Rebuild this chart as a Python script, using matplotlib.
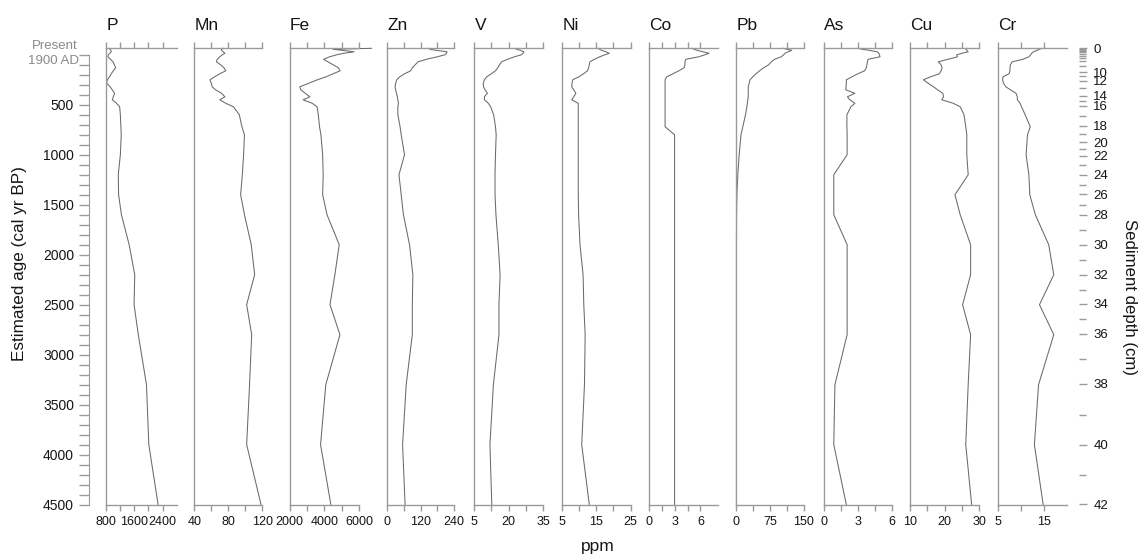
import matplotlib.pyplot as plt

plt.rcParams['font.family'] = ['Liberation Sans', 'DejaVu Sans']

W, H = 1143, 556

# sample ages (cal yr BP), shared by all element profiles
ages = [-65, -55, -45, -30, -15, 0, 20, 45, 70, 100, 130, 160, 190, 220, 250, 285,
        320, 350, 385, 420, 450, 485, 520, 600, 720, 800, 1000, 1200, 1400, 1600,
        1900, 2200, 2500, 2800, 3300, 3900, 4500]

P = [875, 900, 930, 940, 900, 860, 846, 920, 990, 1030, 1066, 1000, 940, 890, 830, 810,
     910, 970, 1037, 1000, 970, 1090, 1180, 1200, 1215, 1225, 1200, 1140, 1150, 1230,
     1450, 1609, 1590, 1710, 1943, 2009, 2274]
Mn = [74, 72, 72, 74, 76, 73, 70, 67, 66, 71, 75, 77, 70, 64, 58.5, 60,
      61, 65, 72, 76, 70, 77, 86, 93, 96, 99, 98, 96.5, 94.5, 99,
      107, 111, 101.6, 107.5, 105, 101.6, 118.5]
Fe = [6700, 4500, 5000, 5700, 5100, 4700, 4300, 3950, 4200, 4500, 4800, 4900, 4500, 4100, 3600, 3100,
      2590, 2650, 2900, 3170, 2780, 3300, 3580, 3650, 3720, 3800, 3900, 3930, 3900, 4150,
      4850, 4600, 4320, 4890, 4080, 3780, 4370]
Zn = [147, 155, 175, 215, 213, 207, 180, 140, 111, 100, 90, 84, 62, 45, 34, 30,
      28, 30, 33, 36, 38, 40, 38, 38, 46, 50, 62, 42, 50, 58,
      80, 92, 90, 90, 68, 55, 64]
V = [22.7, 23.5, 25, 26.6, 26.2, 25.5, 22.5, 19.5, 17, 16, 15.3, 14.3, 12.5, 10.5, 9.5, 9,
     9.1, 9.8, 10.8, 9.5, 9.5, 11.2, 12.2, 13.5, 14.3, 14.6, 14.3, 14.1, 14.1, 14.5,
     15.5, 16.3, 15.8, 15.8, 13.4, 11.9, 12.7]
Ni = [15.6, 16, 16.5, 17.8, 18.8, 17.5, 16, 14.5, 13.2, 13, 12.8, 12.5, 11.3, 10, 8.2, 8,
      7.9, 8.5, 9.1, 8.5, 7.9, 9.8, 9.8, 9.8, 9.8, 9.8, 9.8, 9.8, 9.8, 9.9,
      10.3, 11.2, 11.4, 11.8, 11.6, 10.8, 13]
Co = [5.0, 5.3, 5.6, 6.3, 7.0, 6.5, 5.8, 4.3, 4.2, 4.2, 4.1, 3.5, 2.8, 2.1, 1.9, 1.9,
      1.9, 1.9, 1.9, 1.9, 1.9, 1.9, 1.9, 1.9, 1.9, 3.0, 3.0, 3.0, 3.0, 3.0,
      3.0, 3.0, 3.0, 3.0, 3.0, 3.0, 3.0]
Pb = [105, 112, 123, 115, 108, 105, 100, 85, 78, 72, 61, 52, 44, 37, 31, 29,
      27, 27, 27, 27, 26, 25, 24, 21, 15, 11, 7, 4, 2, 1.2,
      1, 1, 1, 1, 1, 1, 1]
As = [3.05, 3.4, 4.0, 4.7, 4.85, 4.9, 4.95, 3.9, 3.85, 3.8, 3.75, 3.6, 3.0, 2.5, 2.0, 2.0,
      1.97, 1.95, 2.75, 2.1, 2.3, 2.75, 2.4, 2.05, 2.05, 2.07, 2.07, 0.9, 0.9, 0.9,
      2.07, 2.07, 2.07, 2.07, 1.0, 0.9, 2.0]
Cu = [26.4, 26.2, 26.4, 26.8, 25, 23.5, 23.7, 21, 18.2, 19, 19.3, 19, 18.5, 16, 13.9, 15.3,
      16.8, 18, 19.5, 19.7, 19.2, 22.5, 24.5, 25.6, 26.1, 26.4, 26.4, 26.8, 23, 24.5,
      27.5, 27.5, 25.2, 27.5, 26.8, 26.1, 27.8]
Cr = [14.6, 14.1, 13.6, 12.8, 12.4, 12.2, 11.8, 10.5, 8.2, 7.8, 7.7, 7.7, 7.5, 6.2, 6.1, 6.3,
      6.8, 7.8, 9.0, 9.3, 9.3, 9.9, 10.2, 11, 12.1, 11.5, 11.2, 11.8, 12, 13.2,
      16.1, 17.2, 14.1, 17.2, 13.9, 13, 14.9]

names = ['P', 'Mn', 'Fe', 'Zn', 'V', 'Ni', 'Co', 'Pb', 'As', 'Cu', 'Cr']
series = [P, Mn, Fe, Zn, V, Ni, Co, Pb, As, Cu, Cr]
xlims = [(800, 2800), (40, 120), (2000, 6000), (0, 240), (5, 35), (5, 25),
         (0, 8), (0, 150), (0, 6), (10, 30), (5, 20)]
xticks = [[800, 1200, 1600, 2000, 2400], [40, 60, 80, 100, 120],
          [2000, 3000, 4000, 5000, 6000], [0, 60, 120, 180, 240],
          [5, 12.5, 20, 27.5, 35], [5, 10, 15, 20, 25], [0, 1.5, 3, 4.5, 6],
          [0, 37.5, 75, 112.5, 150], [0, 1.5, 3, 4.5, 6], [10, 15, 20, 25, 30],
          [5, 10, 15]]

# age axis
age_ticks = list(range(0, 4501, 100))
age_labels = [str(a) if a % 500 == 0 and a > 0 else '' for a in age_ticks]

# sediment depth axis (cm) and the ages they sit at
depth_major = [0, 10, 12, 14, 16, 18, 20, 22, 24, 26, 28, 30, 32, 34, 36, 38, 40, 42]
depth_major_age = [-65, 175, 260, 410, 510, 710, 877, 1010, 1200, 1395, 1600, 1900,
                   2200, 2490, 2790, 3290, 3900, 4495]
depth_minor_age = [-57, -48, -38, -25, -10, 8, 30, 60, 110, 215, 330, 460, 610, 795,
                   945, 1100, 1300, 1500, 1750, 2050, 2350, 2640, 3040, 3600, 4200]

# layout in pixels
lefts = [106.3, 194.3, 289.5, 387.3, 474, 561.7, 648.7, 736, 823.5, 909.8, 997.5]
widths = [70.3, 68, 69.8, 66.7, 69.3, 69, 69, 68, 68.5, 69.5, 69.2]
top_px, bot_px = 48.3, 504.6
y0 = 1 - bot_px / H
hgt = (bot_px - top_px) / H
YLIM = (4500, -65)

axis_col = '#9a9a9a'
line_col = '#6a6a6a'
text_col = '#151515'

fig = plt.figure(figsize=(W / 100, H / 100), dpi=100)

for name, vals, xl, tk, lx, wx in zip(names, series, xlims, xticks, lefts, widths):
    ax = fig.add_axes([lx / W, y0, wx / W, hgt])
    ax.plot(vals, ages, color=line_col, lw=0.75, clip_on=False)
    ax.set_xlim(xl)
    ax.set_ylim(YLIM)
    ax.set_yticks([])
    ax.spines['right'].set_visible(False)
    for s in ['left', 'top', 'bottom']:
        ax.spines[s].set_color(axis_col)
        ax.spines[s].set_linewidth(1.0)
    ax.set_xticks(tk)
    ax.set_xticklabels([('%g' % t) if i % 2 == 0 else '' for i, t in enumerate(tk)])
    ax.tick_params(axis='x', top=True, labeltop=False, direction='out', length=4,
                   width=1.0, color=axis_col, labelsize=9, labelcolor=text_col, pad=4)
    ax.patch.set_alpha(0)
    fig.text((lx + 0.5) / W, 1 - 25 / H, name, fontsize=12.5, color=text_col,
             ha='left', va='center')

# left age scale
axl = fig.add_axes([89.3 / W, y0, 0.0001, hgt])
axl.set_ylim(YLIM)
axl.set_xticks([])
for s in ['right', 'top', 'bottom']:
    axl.spines[s].set_visible(False)
axl.spines['left'].set_color(axis_col)
axl.spines['left'].set_bounds(0, 4500)
axl.set_yticks(age_ticks)
axl.set_yticklabels(age_labels)
axl.tick_params(axis='y', length=7, width=1.0, color=axis_col, labelsize=10,
                labelcolor=text_col, pad=4)
fig.text(78 / W, 1 - 46 / H, 'Present', fontsize=9.5, color='#8a8a8a', ha='right', va='center')
fig.text(79 / W, 1 - 60.5 / H, '1900 AD', fontsize=9.5, color='#8a8a8a', ha='right', va='center')

# right depth scale
axr = fig.add_axes([1079.3 / W, y0, 0.0001, hgt])
axr.set_ylim(YLIM)
axr.set_xticks([])
for s in ['left', 'right', 'top', 'bottom']:
    axr.spines[s].set_visible(False)
axr.yaxis.tick_right()
axr.set_yticks(depth_major_age)
axr.set_yticklabels([str(d) for d in depth_major])
axr.set_yticks(depth_minor_age, minor=True)
axr.tick_params(axis='y', which='major', length=6, width=1.0, color=axis_col,
                labelsize=9.5, labelcolor=text_col, pad=4)
axr.tick_params(axis='y', which='minor', length=5, width=1.0, color=axis_col)

fig.text(20 / W, 1 - 264 / H, 'Estimated age (cal yr BP)', fontsize=12.3, color=text_col,
         rotation=90, ha='center', va='center')
fig.text(1130 / W, 1 - 297 / H, 'Sediment depth (cm)', fontsize=12.1, color=text_col,
         rotation=270, ha='center', va='center')
fig.text(598 / W, 1 - 547 / H, 'ppm', fontsize=12.5, color=text_col, ha='center', va='center')

fig.savefig('out.png', dpi=100, facecolor='white')
